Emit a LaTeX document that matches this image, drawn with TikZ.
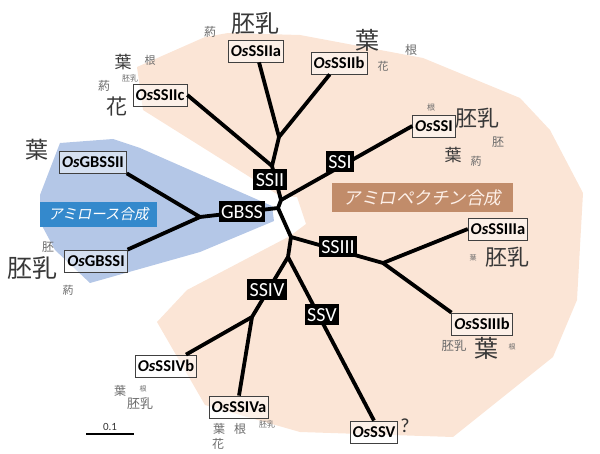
\documentclass[tikz,border=0pt]{standalone}
\usepackage{fontspec}
\setmainfont{Carlito}
\newfontfamily\cjk{Noto Sans CJK JP}
\newfontfamily\cjkit[FakeSlant=0.2]{Noto Sans CJK JP}
\definecolor{peach}{RGB}{251,229,214}
\definecolor{bluereg}{RGB}{180,199,231}
\definecolor{bluebox}{RGB}{52,137,204}
\definecolor{brownbox}{RGB}{193,140,106}
\definecolor{boxline}{RGB}{64,64,64}
\begin{document}
\begin{tikzpicture}[x=1pt,y=-1pt,
  branch/.style={line width=3.8pt, line join=round},
  clade/.style={fill=black, text=white, inner xsep=2.5pt, inner ysep=0pt, minimum height=21pt, font=\fontsize{20}{20}\selectfont},
  leaf/.style={draw=boxline, line width=0.8pt, fill=white, fill opacity=0.45, text opacity=1, inner xsep=2.5pt, inner ysep=0pt, minimum height=22pt, font=\bfseries\fontsize{16.5}{16.5}\selectfont},
  jp/.style={font=\cjk\fontsize{#1}{#1}\selectfont, inner sep=0pt},
  big/.style={text=black!78},
  small/.style={text=black!58},
]
\useasboundingbox (0,0) rectangle (600,454);
% regions
\fill[peach] (137,67) -- (205,37) -- (228,33) -- (300,35) -- (423,58) -- (520,98) -- (550,130) -- (583,193) -- (577,300) -- (553,357) -- (453,437) -- (300,432) -- (205,405) -- (157,322) -- (187,290) -- (290,236) -- (306,224) -- (297,197) -- (280,196) -- (143,110) -- cycle;
\fill[bluereg] (60,143) -- (113,139) -- (140,148) -- (272,206) -- (274,221) -- (200,252) -- (90,283) -- (55,250) -- (40,222) -- (40,195) -- cycle;
% region labels
\node[fill=bluebox, text=white, minimum width=117pt, minimum height=25pt, inner sep=0pt, font=\cjkit\fontsize{14.5}{14.5}\selectfont] (amy) at (98.5,214.5) {アミロース合成};
\node[fill=brownbox, text=peach!60!white, minimum width=181pt, minimum height=29pt, inner sep=0pt, font=\cjkit\fontsize{17.5}{17.5}\selectfont] (amp) at (422.5,197.5) {アミロペクチン合成};
% leaves
\node[leaf] (gbssii) at (93,162) {\textit{Os}GBSSII};
\node[leaf] (gbssi) at (96,261) {\textit{Os}GBSSI};
\node[leaf] (ossiic) at (160,95) {\textit{Os}SSIIc};
\node[leaf] (ossiia) at (256,51) {\textit{Os}SSIIa};
\node[leaf] (ossiib) at (339,63) {\textit{Os}SSIIb};
\node[leaf] (ossi) at (434,126) {\textit{Os}SSI};
\node[leaf] (ossiiia) at (498,229) {\textit{Os}SSIIIa};
\node[leaf] (ossiiib) at (482,324) {\textit{Os}SSIIIb};
\node[leaf] (ossv) at (374,432) {\textit{Os}SSV};
\node[leaf] (ossiva) at (239,407) {\textit{Os}SSIVa};
\node[leaf] (ossivb) at (166,366) {\textit{Os}SSIVb};
% tree junctions
\coordinate (r1) at (278,208);
\coordinate (r2) at (281,200);
\coordinate (r3) at (291,237);
\coordinate (r4) at (288,257);
\coordinate (jg) at (200,217);
\coordinate (j2) at (279,137);
\coordinate (s2t) at (272,166);
\coordinate (j3) at (383,263);
\coordinate (j4) at (252,317);
\draw[branch] (gbssii.south east) -- (jg) -- (gbssi.north east);
\draw[branch] (jg) -- (r1) -- (r2) -- (s2t) -- (j2) -- (ossiia);
\draw[branch] (j2) -- (ossiib);
\draw[branch] (s2t) -- (ossiic.east);
\draw[branch] (r2) -- (ossi.west);
\draw[branch] (r1) -- (r3) -- (j3) -- (ossiiia.west);
\draw[branch] (j3) -- (ossiiib.north west);
\draw[branch] (r3) -- (r4) -- (j4) -- (ossivb);
\draw[branch] (j4) -- (ossiva.north);
\draw[branch] (r4) -- (ossv.north);
% clade labels
\node[clade] (gbss) at (242,212) {GBSS};
\node[clade] (ssii) at (270,180) {SSII};
\node[clade] (ssi) at (340,162) {SSI};
\node[clade] (ssiii) at (338,247) {SSIII};
\node[clade] (ssiv) at (267,290) {SSIV};
\node[clade] (ssv) at (322,315) {SSV};
% tissue labels
\node[jp=12, small] (t1) at (210,32) {葯};
\node[jp=24, big] (t2) at (255,23) {胚乳};
\node[jp=17, big] (t3) at (123,62) {葉};
\node[jp=11, small] (t4) at (150,60) {根};
\node[jp=8, small] (t5) at (130,78) {胚乳};
\node[jp=12, small] (t6) at (104,86) {葯};
\node[jp=21, big] (t7) at (117,107) {花};
\node[jp=24, big] (t8) at (367,40) {葉};
\node[jp=12, small] (t9) at (411,50) {根};
\node[jp=11, small] (t10) at (383,66) {花};
\node[jp=8, small] (t11) at (431,107) {根};
\node[jp=22, big] (t12) at (477,118) {胚乳};
\node[jp=12, small] (t13) at (498,142) {胚};
\node[jp=17, big] (t14) at (453,155) {葉};
\node[jp=11, small] (t15) at (476,161) {葯};
\node[jp=7, small] (t16) at (473,258) {葉};
\node[jp=22, big] (t17) at (507,257) {胚乳};
\node[jp=12.5, small] (t18) at (454,346) {胚乳};
\node[jp=24, big] (t19) at (486,348) {葉};
\node[jp=7, small] (t20) at (512,347) {根};
\node[font=\fontsize{20}{20}\selectfont, text=black!80, inner sep=0pt] (q) at (405,426) {?};
\node[jp=12, small] (t21) at (219,429) {葉};
\node[jp=12, small] (t22) at (240,429) {根};
\node[jp=8, small] (t23) at (267,424) {胚乳};
\node[jp=12, small] (t24) at (218,444) {花};
\node[jp=12, small] (t25) at (120,391) {葉};
\node[jp=7, small] (t26) at (143,389) {根};
\node[jp=13, small] (t27) at (140,404) {胚乳};
\node[jp=23, big] (t28) at (37,150) {葉};
\node[jp=12, small] (t29) at (48,247) {胚};
\node[jp=25, big] (t30) at (33,268) {胚乳};
\node[jp=11, small] (t31) at (68,290) {葯};
% scale bar
\coordinate (sb1) at (86,434);
\coordinate (sb2) at (134,434);
\draw[line width=2.5pt] (sb1) -- (sb2);
\node[font=\fontsize{11}{11}\selectfont, text=black!80, inner sep=0pt] (sbl) at (110,427) {0.1};
\end{tikzpicture}
\end{document}
